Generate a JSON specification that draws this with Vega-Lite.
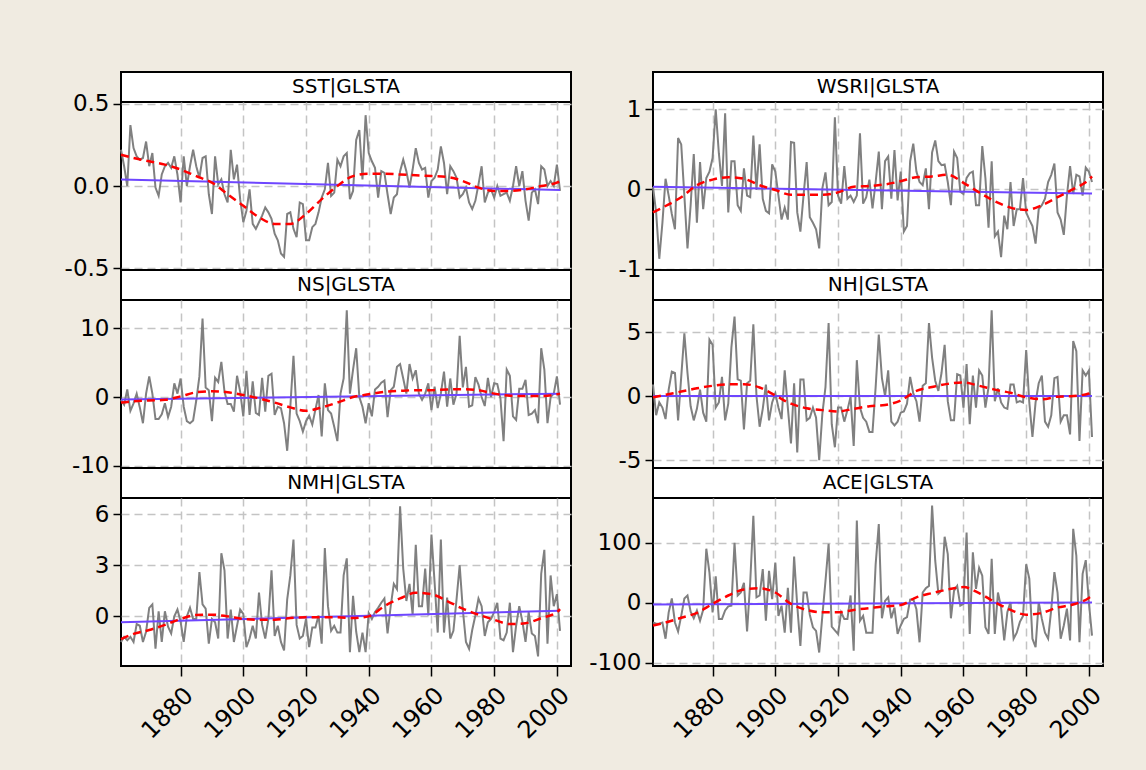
{
  "$schema": "https://vega.github.io/schema/vega-lite/v6.json",
  "autosize": {"type": "pad"},
  "padding": {"left": 63, "top": 71, "right": 40, "bottom": 28},
  "background": "#F0EBE1",
  "columns": 2,
  "bounds": "flush",
  "spacing": {"row": 0, "column": 82},
  "datasets": {
    "main": [
      {"year":1861,"SST":0.22,"WSRI":0.03,"NS":-0.4,"NH":0.9,"NMH":-1.5,"ACE":-33},
      {"year":1862,"SST":0.12,"WSRI":-0.29,"NS":-1.1,"NH":-1.5,"NMH":-1.2,"ACE":-35},
      {"year":1863,"SST":0.0,"WSRI":-0.87,"NS":1.1,"NH":-0.5,"NMH":-1.4,"ACE":-35},
      {"year":1864,"SST":0.37,"WSRI":-0.42,"NS":-2.0,"NH":-0.9,"NMH":-1.2,"ACE":-33},
      {"year":1865,"SST":0.23,"WSRI":0.13,"NS":-0.9,"NH":-1.8,"NMH":-1.5,"ACE":-60},
      {"year":1866,"SST":0.18,"WSRI":-0.08,"NS":0.5,"NH":0.5,"NMH":-0.45,"ACE":-16},
      {"year":1867,"SST":0.16,"WSRI":-0.31,"NS":-1.5,"NH":1.9,"NMH":-0.55,"ACE":7},
      {"year":1868,"SST":0.17,"WSRI":-0.5,"NS":-3.8,"NH":1.8,"NMH":-1.5,"ACE":-33},
      {"year":1869,"SST":0.27,"WSRI":0.64,"NS":0.5,"NH":-1.9,"NMH":-0.9,"ACE":-48},
      {"year":1870,"SST":0.12,"WSRI":0.56,"NS":3.0,"NH":1.5,"NMH":0.5,"ACE":-22},
      {"year":1871,"SST":0.2,"WSRI":-0.08,"NS":0.5,"NH":4.9,"NMH":0.7,"ACE":7},
      {"year":1872,"SST":-0.01,"WSRI":-0.74,"NS":-3.2,"NH":1.8,"NMH":-1.9,"ACE":12},
      {"year":1873,"SST":-0.06,"WSRI":-0.2,"NS":-3.2,"NH":-0.8,"NMH":0.3,"ACE":-15},
      {"year":1874,"SST":0.07,"WSRI":0.44,"NS":-2.5,"NH":-1.9,"NMH":-1.5,"ACE":-26},
      {"year":1875,"SST":0.12,"WSRI":-0.42,"NS":-0.9,"NH":-1.0,"NMH":0.3,"ACE":-13},
      {"year":1876,"SST":0.14,"WSRI":0.34,"NS":-2.9,"NH":0.5,"NMH":-0.6,"ACE":-30},
      {"year":1877,"SST":0.11,"WSRI":-0.25,"NS":-1.4,"NH":-1.3,"NMH":-1.0,"ACE":-12},
      {"year":1878,"SST":0.18,"WSRI":0.14,"NS":2.0,"NH":-2.0,"NMH":0.0,"ACE":90},
      {"year":1879,"SST":0.07,"WSRI":0.22,"NS":0.5,"NH":4.4,"NMH":0.4,"ACE":50},
      {"year":1880,"SST":-0.1,"WSRI":0.39,"NS":2.7,"NH":4.0,"NMH":-0.3,"ACE":-16},
      {"year":1881,"SST":0.18,"WSRI":1.0,"NS":-1.4,"NH":-0.9,"NMH":-1.5,"ACE":44},
      {"year":1882,"SST":0.0,"WSRI":0.45,"NS":-3.5,"NH":-0.5,"NMH":0.0,"ACE":-27},
      {"year":1883,"SST":0.12,"WSRI":0.04,"NS":-3.8,"NH":1.5,"NMH":0.5,"ACE":-27},
      {"year":1884,"SST":0.22,"WSRI":0.95,"NS":-3.4,"NH":-1.9,"NMH":-0.15,"ACE":-13},
      {"year":1885,"SST":0.12,"WSRI":-0.29,"NS":-0.5,"NH":-0.6,"NMH":-0.15,"ACE":-6},
      {"year":1886,"SST":0.05,"WSRI":0.35,"NS":3.0,"NH":3.8,"NMH":2.6,"ACE":-5},
      {"year":1887,"SST":0.17,"WSRI":0.35,"NS":11.4,"NH":6.2,"NMH":0.7,"ACE":100},
      {"year":1888,"SST":0.18,"WSRI":-0.2,"NS":1.4,"NH":1.3,"NMH":0.45,"ACE":12},
      {"year":1889,"SST":-0.05,"WSRI":-0.27,"NS":1.0,"NH":1.2,"NMH":-1.6,"ACE":17},
      {"year":1890,"SST":-0.17,"WSRI":0.26,"NS":-3.5,"NH":-2.6,"NMH":-0.15,"ACE":33},
      {"year":1891,"SST":0.18,"WSRI":-0.08,"NS":2.8,"NH":1.0,"NMH":-0.35,"ACE":-48},
      {"year":1892,"SST":0.01,"WSRI":-0.1,"NS":2.2,"NH":1.2,"NMH":-1.3,"ACE":34},
      {"year":1893,"SST":0.04,"WSRI":0.67,"NS":5.1,"NH":5.6,"NMH":3.7,"ACE":145},
      {"year":1894,"SST":-0.05,"WSRI":-0.01,"NS":0.8,"NH":0.0,"NMH":2.7,"ACE":9},
      {"year":1895,"SST":-0.1,"WSRI":0.56,"NS":-1.0,"NH":-2.4,"NMH":-1.3,"ACE":12},
      {"year":1896,"SST":0.22,"WSRI":-0.12,"NS":-1.0,"NH":-1.0,"NMH":0.4,"ACE":56},
      {"year":1897,"SST":0.04,"WSRI":-0.27,"NS":-2.1,"NH":0.9,"NMH":-1.5,"ACE":-30},
      {"year":1898,"SST":0.13,"WSRI":-0.3,"NS":3.1,"NH":-1.9,"NMH":-0.55,"ACE":53},
      {"year":1899,"SST":-0.08,"WSRI":0.31,"NS":0.8,"NH":-0.5,"NMH":0.4,"ACE":6},
      {"year":1900,"SST":-0.22,"WSRI":0.22,"NS":-2.8,"NH":0.2,"NMH":0.15,"ACE":67},
      {"year":1901,"SST":-0.15,"WSRI":-0.08,"NS":3.8,"NH":-0.9,"NMH":-1.8,"ACE":-22},
      {"year":1902,"SST":-0.02,"WSRI":-0.38,"NS":-2.6,"NH":-1.8,"NMH":-1.3,"ACE":-5},
      {"year":1903,"SST":-0.23,"WSRI":-0.23,"NS":2.3,"NH":2.0,"NMH":-0.55,"ACE":-50},
      {"year":1904,"SST":-0.26,"WSRI":-0.38,"NS":-2.3,"NH":-0.9,"NMH":-1.3,"ACE":25},
      {"year":1905,"SST":-0.22,"WSRI":0.59,"NS":-2.6,"NH":-3.7,"NMH":1.4,"ACE":-50},
      {"year":1906,"SST":-0.18,"WSRI":0.58,"NS":2.8,"NH":1.0,"NMH":-0.5,"ACE":77},
      {"year":1907,"SST":-0.13,"WSRI":-0.29,"NS":-2.1,"NH":-4.4,"NMH":-1.3,"ACE":-5},
      {"year":1908,"SST":-0.16,"WSRI":-0.53,"NS":3.1,"NH":1.3,"NMH":-0.15,"ACE":-72},
      {"year":1909,"SST":-0.2,"WSRI":-0.08,"NS":3.4,"NH":1.3,"NMH":2.7,"ACE":17},
      {"year":1910,"SST":-0.29,"WSRI":0.34,"NS":-2.6,"NH":-1.9,"NMH":-1.15,"ACE":17},
      {"year":1911,"SST":-0.33,"WSRI":-0.35,"NS":-1.4,"NH":-1.7,"NMH":-0.55,"ACE":-20},
      {"year":1912,"SST":-0.41,"WSRI":-0.42,"NS":-1.6,"NH":-0.9,"NMH":-1.5,"ACE":-41},
      {"year":1913,"SST":-0.43,"WSRI":-0.5,"NS":-3.8,"NH":-1.7,"NMH":-2.0,"ACE":-47},
      {"year":1914,"SST":-0.17,"WSRI":-0.74,"NS":-7.8,"NH":-5.0,"NMH":1.0,"ACE":-83},
      {"year":1915,"SST":-0.16,"WSRI":0.01,"NS":-1.4,"NH":-1.4,"NMH":2.4,"ACE":-22},
      {"year":1916,"SST":-0.26,"WSRI":0.21,"NS":6.0,"NH":0.7,"NMH":4.5,"ACE":36},
      {"year":1917,"SST":-0.31,"WSRI":-0.2,"NS":-2.4,"NH":5.7,"NMH":-0.5,"ACE":98},
      {"year":1918,"SST":-0.1,"WSRI":-0.16,"NS":-3.5,"NH":-2.2,"NMH":-1.3,"ACE":-40},
      {"year":1919,"SST":-0.11,"WSRI":0.9,"NS":-5.0,"NH":-4.0,"NMH":-1.15,"ACE":-46},
      {"year":1920,"SST":-0.33,"WSRI":-0.08,"NS":-3.5,"NH":-0.9,"NMH":-0.15,"ACE":-52},
      {"year":1921,"SST":-0.33,"WSRI":-0.18,"NS":-2.7,"NH":-0.9,"NMH":-1.8,"ACE":-16},
      {"year":1922,"SST":-0.25,"WSRI":0.29,"NS":-4.0,"NH":-2.0,"NMH":-0.65,"ACE":-27},
      {"year":1923,"SST":-0.23,"WSRI":-0.12,"NS":-1.8,"NH":-1.1,"NMH":-0.65,"ACE":-27},
      {"year":1924,"SST":-0.16,"WSRI":-0.08,"NS":0.3,"NH":-0.05,"NMH":0.05,"ACE":12},
      {"year":1925,"SST":-0.07,"WSRI":-0.16,"NS":-5.7,"NH":-3.9,"NMH":-1.6,"ACE":-80},
      {"year":1926,"SST":-0.02,"WSRI":-0.08,"NS":2.0,"NH":2.8,"NMH":4.0,"ACE":137},
      {"year":1927,"SST":0.14,"WSRI":0.7,"NS":-1.9,"NH":-0.9,"NMH":0.6,"ACE":-30},
      {"year":1928,"SST":-0.06,"WSRI":-0.18,"NS":-2.4,"NH":-1.7,"NMH":-0.85,"ACE":-22},
      {"year":1929,"SST":-0.04,"WSRI":-0.1,"NS":-4.3,"NH":-2.0,"NMH":-0.55,"ACE":-50},
      {"year":1930,"SST":0.16,"WSRI":0.12,"NS":-6.4,"NH":-2.8,"NMH":-0.95,"ACE":-50},
      {"year":1931,"SST":0.12,"WSRI":-0.24,"NS":0.5,"NH":-2.8,"NMH":-0.95,"ACE":-50},
      {"year":1932,"SST":0.18,"WSRI":0.09,"NS":2.7,"NH":0.7,"NMH":2.4,"ACE":64},
      {"year":1933,"SST":0.2,"WSRI":0.47,"NS":12.6,"NH":4.8,"NMH":3.4,"ACE":131},
      {"year":1934,"SST":-0.08,"WSRI":-0.25,"NS":0.5,"NH":1.4,"NMH":-2.1,"ACE":-26},
      {"year":1935,"SST":-0.03,"WSRI":0.35,"NS":4.0,"NH":0.0,"NMH":1.2,"ACE":3},
      {"year":1936,"SST":0.28,"WSRI":0.41,"NS":7.1,"NH":2.0,"NMH":-0.9,"ACE":9},
      {"year":1937,"SST":0.34,"WSRI":-0.12,"NS":0.0,"NH":-2.0,"NMH":-2.1,"ACE":-26},
      {"year":1938,"SST":0.04,"WSRI":0.49,"NS":-1.4,"NH":-2.3,"NMH":-0.95,"ACE":-8},
      {"year":1939,"SST":0.43,"WSRI":-0.14,"NS":-3.8,"NH":-2.0,"NMH":-2.1,"ACE":-52},
      {"year":1940,"SST":0.2,"WSRI":0.22,"NS":-0.9,"NH":-1.3,"NMH":0.2,"ACE":-38},
      {"year":1941,"SST":0.15,"WSRI":-0.53,"NS":-2.8,"NH":-1.2,"NMH":-0.15,"ACE":-27},
      {"year":1942,"SST":0.11,"WSRI":-0.46,"NS":1.1,"NH":-0.6,"NMH":0.25,"ACE":-24},
      {"year":1943,"SST":-0.07,"WSRI":0.35,"NS":1.5,"NH":1.5,"NMH":0.5,"ACE":5},
      {"year":1944,"SST":0.09,"WSRI":0.57,"NS":2.1,"NH":0.2,"NMH":0.8,"ACE":6},
      {"year":1945,"SST":0.08,"WSRI":0.22,"NS":2.4,"NH":-0.4,"NMH":1.05,"ACE":-11},
      {"year":1946,"SST":-0.05,"WSRI":0.09,"NS":-2.9,"NH":-2.0,"NMH":-1.0,"ACE":-66},
      {"year":1947,"SST":-0.17,"WSRI":0.05,"NS":1.0,"NH":0.8,"NMH":0.6,"ACE":17},
      {"year":1948,"SST":-0.07,"WSRI":0.26,"NS":1.5,"NH":1.0,"NMH":1.9,"ACE":24},
      {"year":1949,"SST":-0.05,"WSRI":-0.25,"NS":4.4,"NH":5.7,"NMH":1.6,"ACE":28},
      {"year":1950,"SST":0.09,"WSRI":0.46,"NS":4.8,"NH":3.0,"NMH":6.45,"ACE":162},
      {"year":1951,"SST":0.16,"WSRI":0.61,"NS":2.7,"NH":1.2,"NMH":2.8,"ACE":70},
      {"year":1952,"SST":0.09,"WSRI":0.35,"NS":0.5,"NH":0.4,"NMH":0.9,"ACE":15},
      {"year":1953,"SST":-0.01,"WSRI":0.3,"NS":4.8,"NH":1.8,"NMH":1.9,"ACE":20},
      {"year":1954,"SST":0.1,"WSRI":0.31,"NS":2.7,"NH":4.0,"NMH":0.1,"ACE":110},
      {"year":1955,"SST":0.23,"WSRI":0.09,"NS":3.9,"NH":-0.4,"NMH":4.2,"ACE":81},
      {"year":1956,"SST":0.14,"WSRI":-0.2,"NS":0.5,"NH":-1.9,"NMH":0.6,"ACE":-26},
      {"year":1957,"SST":0.1,"WSRI":0.47,"NS":-0.4,"NH":-1.9,"NMH":0.6,"ACE":20},
      {"year":1958,"SST":0.11,"WSRI":0.39,"NS":0.5,"NH":1.7,"NMH":2.8,"ACE":28},
      {"year":1959,"SST":-0.07,"WSRI":-0.03,"NS":2.0,"NH":1.6,"NMH":0.05,"ACE":-5},
      {"year":1960,"SST":0.03,"WSRI":-0.06,"NS":-1.9,"NH":-0.9,"NMH":4.8,"ACE":-2},
      {"year":1961,"SST":0.05,"WSRI":0.14,"NS":1.5,"NH":2.5,"NMH":2.0,"ACE":117},
      {"year":1962,"SST":0.1,"WSRI":0.2,"NS":-1.6,"NH":-2.2,"NMH":-0.95,"ACE":-52},
      {"year":1963,"SST":0.24,"WSRI":0.22,"NS":0.5,"NH":1.6,"NMH":4.5,"ACE":84},
      {"year":1964,"SST":0.14,"WSRI":-0.2,"NS":3.7,"NH":-0.9,"NMH":-0.95,"ACE":23},
      {"year":1965,"SST":-0.05,"WSRI":-0.2,"NS":-1.4,"NH":2.0,"NMH":1.1,"ACE":58},
      {"year":1966,"SST":0.12,"WSRI":0.54,"NS":2.7,"NH":1.6,"NMH":-1.3,"ACE":45},
      {"year":1967,"SST":0.09,"WSRI":0.14,"NS":-1.1,"NH":-0.9,"NMH":-0.85,"ACE":-41},
      {"year":1968,"SST":0.05,"WSRI":-0.48,"NS":0.5,"NH":0.7,"NMH":1.0,"ACE":-52},
      {"year":1969,"SST":-0.07,"WSRI":0.35,"NS":8.9,"NH":6.7,"NMH":3.0,"ACE":73},
      {"year":1970,"SST":-0.05,"WSRI":-0.59,"NS":1.4,"NH":-0.4,"NMH":0.4,"ACE":-52},
      {"year":1971,"SST":-0.01,"WSRI":-0.53,"NS":4.4,"NH":0.6,"NMH":-1.5,"ACE":17},
      {"year":1972,"SST":-0.1,"WSRI":-0.85,"NS":-1.4,"NH":-0.5,"NMH":-1.9,"ACE":-8},
      {"year":1973,"SST":-0.14,"WSRI":-0.33,"NS":-1.2,"NH":-0.9,"NMH":-0.8,"ACE":-63},
      {"year":1974,"SST":-0.09,"WSRI":-0.5,"NS":2.9,"NH":-1.0,"NMH":0.05,"ACE":-16},
      {"year":1975,"SST":0.01,"WSRI":0.09,"NS":1.8,"NH":0.9,"NMH":1.05,"ACE":1},
      {"year":1976,"SST":0.12,"WSRI":-0.46,"NS":0.0,"NH":0.9,"NMH":0.6,"ACE":-60},
      {"year":1977,"SST":-0.1,"WSRI":-0.25,"NS":-1.3,"NH":-0.5,"NMH":-1.15,"ACE":-50},
      {"year":1978,"SST":-0.04,"WSRI":-0.25,"NS":2.8,"NH":-0.4,"NMH":-0.35,"ACE":-32},
      {"year":1979,"SST":-0.02,"WSRI":0.14,"NS":0.0,"NH":-0.5,"NMH":-0.15,"ACE":-22},
      {"year":1980,"SST":-0.07,"WSRI":-0.29,"NS":2.0,"NH":3.6,"NMH":0.25,"ACE":64},
      {"year":1981,"SST":0.0,"WSRI":-0.38,"NS":1.9,"NH":-0.5,"NMH":0.8,"ACE":40},
      {"year":1982,"SST":-0.06,"WSRI":-0.46,"NS":-0.2,"NH":-3.2,"NMH":-1.3,"ACE":-60},
      {"year":1983,"SST":-0.05,"WSRI":-0.68,"NS":-6.4,"NH":-0.5,"NMH":-1.4,"ACE":-74},
      {"year":1984,"SST":-0.04,"WSRI":-0.25,"NS":4.0,"NH":1.0,"NMH":-0.95,"ACE":1},
      {"year":1985,"SST":-0.09,"WSRI":-0.2,"NS":3.1,"NH":1.6,"NMH":0.8,"ACE":-27},
      {"year":1986,"SST":0.0,"WSRI":-0.12,"NS":-2.8,"NH":-2.0,"NMH":-2.1,"ACE":-50},
      {"year":1987,"SST":0.12,"WSRI":0.09,"NS":-3.3,"NH":-2.4,"NMH":-0.55,"ACE":-60},
      {"year":1988,"SST":0.0,"WSRI":0.18,"NS":1.2,"NH":-1.5,"NMH":0.6,"ACE":-11},
      {"year":1989,"SST":0.09,"WSRI":0.32,"NS":1.2,"NH":1.4,"NMH":-0.3,"ACE":51},
      {"year":1990,"SST":-0.09,"WSRI":-0.29,"NS":2.5,"NH":1.5,"NMH":-1.5,"ACE":17},
      {"year":1991,"SST":-0.21,"WSRI":-0.38,"NS":-2.6,"NH":-2.0,"NMH":0.25,"ACE":-60},
      {"year":1992,"SST":-0.04,"WSRI":-0.57,"NS":-2.4,"NH":-1.5,"NMH":-1.0,"ACE":-38},
      {"year":1993,"SST":-0.02,"WSRI":-0.08,"NS":-1.9,"NH":-1.5,"NMH":-1.15,"ACE":-10},
      {"year":1994,"SST":-0.11,"WSRI":0.29,"NS":-3.8,"NH":-3.0,"NMH":-2.35,"ACE":-63},
      {"year":1995,"SST":0.12,"WSRI":-0.06,"NS":7.1,"NH":4.3,"NMH":2.5,"ACE":123},
      {"year":1996,"SST":0.1,"WSRI":0.18,"NS":4.0,"NH":3.5,"NMH":3.9,"ACE":78},
      {"year":1997,"SST":0.0,"WSRI":0.16,"NS":-3.8,"NH":-3.5,"NMH":-1.6,"ACE":-66},
      {"year":1998,"SST":0.03,"WSRI":-0.08,"NS":0.0,"NH":2.0,"NMH":2.4,"ACE":48},
      {"year":1999,"SST":0.0,"WSRI":0.27,"NS":0.5,"NH":1.6,"NMH":0.6,"ACE":71},
      {"year":2000,"SST":0.13,"WSRI":0.22,"NS":3.0,"NH":2.0,"NMH":1.3,"ACE":0},
      {"year":2001,"SST":-0.03,"WSRI":0.09,"NS":-1.1,"NH":-3.2,"NMH":-0.85,"ACE":-55}
    ],
    "smooth": [
      {"year":1861,"SST":0.19,"WSRI":-0.29,"NS":-0.8,"NH":-0.1,"NMH":-1.33,"ACE":-38},
      {"year":1865,"SST":0.17,"WSRI":-0.21,"NS":-0.6,"NH":0.1,"NMH":-1.03,"ACE":-33},
      {"year":1870,"SST":0.15,"WSRI":-0.1,"NS":-0.5,"NH":0.35,"NMH":-0.8,"ACE":-25},
      {"year":1875,"SST":0.13,"WSRI":0.05,"NS":-0.4,"NH":0.6,"NMH":-0.5,"ACE":-17},
      {"year":1880,"SST":0.1,"WSRI":0.12,"NS":0.1,"NH":0.8,"NMH":-0.15,"ACE":-2},
      {"year":1885,"SST":0.06,"WSRI":0.15,"NS":0.7,"NH":0.92,"NMH":0.08,"ACE":12},
      {"year":1890,"SST":0.02,"WSRI":0.13,"NS":0.85,"NH":0.93,"NMH":0.1,"ACE":22},
      {"year":1895,"SST":-0.05,"WSRI":0.05,"NS":0.7,"NH":0.67,"NMH":0.0,"ACE":24},
      {"year":1900,"SST":-0.12,"WSRI":-0.01,"NS":0.3,"NH":0.05,"NMH":-0.15,"ACE":17},
      {"year":1905,"SST":-0.19,"WSRI":-0.07,"NS":-0.2,"NH":-0.6,"NMH":-0.2,"ACE":-2},
      {"year":1910,"SST":-0.23,"WSRI":-0.07,"NS":-0.8,"NH":-0.95,"NMH":-0.2,"ACE":-12},
      {"year":1915,"SST":-0.23,"WSRI":-0.07,"NS":-1.5,"NH":-1.1,"NMH":-0.1,"ACE":-16},
      {"year":1920,"SST":-0.17,"WSRI":-0.04,"NS":-2.0,"NH":-1.2,"NMH":-0.05,"ACE":-16},
      {"year":1925,"SST":-0.08,"WSRI":0.03,"NS":-1.5,"NH":-1.0,"NMH":-0.05,"ACE":-12},
      {"year":1930,"SST":0.0,"WSRI":0.04,"NS":-0.8,"NH":-0.8,"NMH":-0.05,"ACE":-9},
      {"year":1935,"SST":0.06,"WSRI":0.06,"NS":0.0,"NH":-0.7,"NMH":-0.1,"ACE":-6},
      {"year":1940,"SST":0.075,"WSRI":0.1,"NS":0.4,"NH":-0.35,"NMH":0.0,"ACE":-4},
      {"year":1945,"SST":0.075,"WSRI":0.15,"NS":0.75,"NH":0.4,"NMH":0.6,"ACE":9},
      {"year":1950,"SST":0.07,"WSRI":0.16,"NS":0.9,"NH":0.7,"NMH":1.05,"ACE":16},
      {"year":1955,"SST":0.065,"WSRI":0.18,"NS":1.0,"NH":0.95,"NMH":1.38,"ACE":22},
      {"year":1960,"SST":0.06,"WSRI":0.08,"NS":1.0,"NH":1.05,"NMH":1.3,"ACE":26},
      {"year":1965,"SST":0.055,"WSRI":-0.04,"NS":1.1,"NH":0.8,"NMH":0.9,"ACE":16},
      {"year":1970,"SST":0.03,"WSRI":-0.15,"NS":1.15,"NH":0.5,"NMH":0.45,"ACE":1},
      {"year":1975,"SST":-0.01,"WSRI":-0.23,"NS":1.0,"NH":0.25,"NMH":0.1,"ACE":-12},
      {"year":1980,"SST":-0.03,"WSRI":-0.26,"NS":0.5,"NH":-0.1,"NMH":-0.2,"ACE":-20},
      {"year":1985,"SST":-0.03,"WSRI":-0.2,"NS":0.2,"NH":-0.25,"NMH":-0.45,"ACE":-17},
      {"year":1990,"SST":-0.02,"WSRI":-0.1,"NS":0.15,"NH":-0.05,"NMH":-0.4,"ACE":-8},
      {"year":1995,"SST":0.0,"WSRI":0.0,"NS":0.15,"NH":0.0,"NMH":-0.1,"ACE":-3},
      {"year":2000,"SST":0.02,"WSRI":0.12,"NS":0.4,"NH":0.2,"NMH":0.25,"ACE":8},
      {"year":2001,"SST":0.03,"WSRI":0.16,"NS":0.5,"NH":0.45,"NMH":0.43,"ACE":12}
    ],
    "trend": [
      {"year":1861,"SST":0.04,"WSRI":0.03,"NS":-0.35,"NH":0.0,"NMH":-0.35,"ACE":-3},
      {"year":2001,"SST":-0.025,"WSRI":-0.055,"NS":0.5,"NH":0.0,"NMH":0.33,"ACE":0.5}
    ],
    "labels": [
      {"t":"SST|GLSTA"},{"t":"WSRI|GLSTA"},{"t":"NS|GLSTA"},{"t":"NH|GLSTA"},{"t":"NMH|GLSTA"},{"t":"ACE|GLSTA"}
    ]
  },
  "concat": [
    {"width":450,"height":30,"view":{"fill":"white","stroke":"black","strokeWidth":2},"data":{"name":"labels"},"transform":[{"filter":"datum.t === 'SST|GLSTA'"}],"mark":{"type":"text","fontSize":20,"font":"DejaVu Sans","color":"black","baseline":"middle","align":"center"},"encoding":{"text":{"field":"t"},"x":{"datum":0.5,"type":"quantitative","scale":{"domain":[0,1]},"axis":null},"y":{"datum":0.5,"type":"quantitative","scale":{"domain":[0,1]},"axis":null}}},
    {"width":450,"height":30,"view":{"fill":"white","stroke":"black","strokeWidth":2},"data":{"name":"labels"},"transform":[{"filter":"datum.t === 'WSRI|GLSTA'"}],"mark":{"type":"text","fontSize":20,"font":"DejaVu Sans","color":"black","baseline":"middle","align":"center"},"encoding":{"text":{"field":"t"},"x":{"datum":0.5,"type":"quantitative","scale":{"domain":[0,1]},"axis":null},"y":{"datum":0.5,"type":"quantitative","scale":{"domain":[0,1]},"axis":null}}},
    {"width":450,"height":168,
     "encoding":{
       "x":{"field":"year","type":"quantitative","scale":{"domain":[1861,2004.5],"nice":false,"zero":false},"axis":{"values":[1880,1900,1920,1940,1960,1980,2000],"labels":false,"ticks":false,"grid":true,"title":null}},
       "y":{"field":"SST","type":"quantitative","scale":{"domain":[-0.51,0.51],"nice":false,"zero":false},"axis":{"values":[-0.5,0,0.5],"format":".1f","labelExpr":"replace(datum.label, '−', '-')","labelOverlap":false,"tickCount":10,"grid":true,"title":null}}},
     "layer":[
       {"data":{"name":"main"},"mark":{"type":"line","color":"#808080","strokeWidth":2}},
       {"data":{"name":"trend"},"mark":{"type":"line","color":"#6E46FF","strokeWidth":2}},
       {"data":{"name":"smooth"},"mark":{"type":"line","color":"#FF0000","strokeWidth":2.5,"strokeDash":[8,5],"interpolate":"monotone"}}
     ]},
    {"width":450,"height":168,
     "encoding":{
       "x":{"field":"year","type":"quantitative","scale":{"domain":[1861,2004.5],"nice":false,"zero":false},"axis":{"values":[1880,1900,1920,1940,1960,1980,2000],"labels":false,"ticks":false,"grid":true,"title":null}},
       "y":{"field":"WSRI","type":"quantitative","scale":{"domain":[-1.01,1.09],"nice":false,"zero":false},"axis":{"values":[-1,0,1],"labelExpr":"datum.value < 0 ? '-' + format(-datum.value, 'd') : format(datum.value, 'd')","labelOverlap":false,"tickCount":10,"grid":true,"title":null}}},
     "layer":[
       {"data":{"name":"main"},"mark":{"type":"line","color":"#808080","strokeWidth":2}},
       {"data":{"name":"trend"},"mark":{"type":"line","color":"#6E46FF","strokeWidth":2}},
       {"data":{"name":"smooth"},"mark":{"type":"line","color":"#FF0000","strokeWidth":2.5,"strokeDash":[8,5],"interpolate":"monotone"}}
     ]},
    {"width":450,"height":30,"view":{"fill":"white","stroke":"black","strokeWidth":2},"data":{"name":"labels"},"transform":[{"filter":"datum.t === 'NS|GLSTA'"}],"mark":{"type":"text","fontSize":20,"font":"DejaVu Sans","color":"black","baseline":"middle","align":"center"},"encoding":{"text":{"field":"t"},"x":{"datum":0.5,"type":"quantitative","scale":{"domain":[0,1]},"axis":null},"y":{"datum":0.5,"type":"quantitative","scale":{"domain":[0,1]},"axis":null}}},
    {"width":450,"height":30,"view":{"fill":"white","stroke":"black","strokeWidth":2},"data":{"name":"labels"},"transform":[{"filter":"datum.t === 'NH|GLSTA'"}],"mark":{"type":"text","fontSize":20,"font":"DejaVu Sans","color":"black","baseline":"middle","align":"center"},"encoding":{"text":{"field":"t"},"x":{"datum":0.5,"type":"quantitative","scale":{"domain":[0,1]},"axis":null},"y":{"datum":0.5,"type":"quantitative","scale":{"domain":[0,1]},"axis":null}}},
    {"width":450,"height":168,
     "encoding":{
       "x":{"field":"year","type":"quantitative","scale":{"domain":[1861,2004.5],"nice":false,"zero":false},"axis":{"values":[1880,1900,1920,1940,1960,1980,2000],"labels":false,"ticks":false,"grid":true,"title":null}},
       "y":{"field":"NS","type":"quantitative","scale":{"domain":[-10.3,14.1],"nice":false,"zero":false},"axis":{"values":[-10,0,10],"format":"d","labelExpr":"replace(datum.label, '−', '-')","labelOverlap":false,"tickCount":10,"grid":true,"title":null}}},
     "layer":[
       {"data":{"name":"main"},"mark":{"type":"line","color":"#808080","strokeWidth":2}},
       {"data":{"name":"trend"},"mark":{"type":"line","color":"#6E46FF","strokeWidth":2}},
       {"data":{"name":"smooth"},"mark":{"type":"line","color":"#FF0000","strokeWidth":2.5,"strokeDash":[8,5],"interpolate":"monotone"}}
     ]},
    {"width":450,"height":168,
     "encoding":{
       "x":{"field":"year","type":"quantitative","scale":{"domain":[1861,2004.5],"nice":false,"zero":false},"axis":{"values":[1880,1900,1920,1940,1960,1980,2000],"labels":false,"ticks":false,"grid":true,"title":null}},
       "y":{"field":"NH","type":"quantitative","scale":{"domain":[-5.62,7.5],"nice":false,"zero":false},"axis":{"values":[-5,0,5],"format":"d","labelExpr":"replace(datum.label, '−', '-')","labelOverlap":false,"tickCount":10,"grid":true,"title":null}}},
     "layer":[
       {"data":{"name":"main"},"mark":{"type":"line","color":"#808080","strokeWidth":2}},
       {"data":{"name":"trend"},"mark":{"type":"line","color":"#6E46FF","strokeWidth":2}},
       {"data":{"name":"smooth"},"mark":{"type":"line","color":"#FF0000","strokeWidth":2.5,"strokeDash":[8,5],"interpolate":"monotone"}}
     ]},
    {"width":450,"height":30,"view":{"fill":"white","stroke":"black","strokeWidth":2},"data":{"name":"labels"},"transform":[{"filter":"datum.t === 'NMH|GLSTA'"}],"mark":{"type":"text","fontSize":20,"font":"DejaVu Sans","color":"black","baseline":"middle","align":"center"},"encoding":{"text":{"field":"t"},"x":{"datum":0.5,"type":"quantitative","scale":{"domain":[0,1]},"axis":null},"y":{"datum":0.5,"type":"quantitative","scale":{"domain":[0,1]},"axis":null}}},
    {"width":450,"height":30,"view":{"fill":"white","stroke":"black","strokeWidth":2},"data":{"name":"labels"},"transform":[{"filter":"datum.t === 'ACE|GLSTA'"}],"mark":{"type":"text","fontSize":20,"font":"DejaVu Sans","color":"black","baseline":"middle","align":"center"},"encoding":{"text":{"field":"t"},"x":{"datum":0.5,"type":"quantitative","scale":{"domain":[0,1]},"axis":null},"y":{"datum":0.5,"type":"quantitative","scale":{"domain":[0,1]},"axis":null}}},
    {"width":450,"height":168,
     "encoding":{
       "x":{"field":"year","type":"quantitative","scale":{"domain":[1861,2004.5],"nice":false,"zero":false},"axis":{"values":[1880,1900,1920,1940,1960,1980,2000],"format":"d","labelAngle":-45,"labelFontSize":24,"tickSize":10,"labelPadding":7,"labelFlush":false,"grid":true,"title":null}},
       "y":{"field":"NMH","type":"quantitative","scale":{"domain":[-2.91,6.94],"nice":false,"zero":false},"axis":{"values":[0,3,6],"format":"d","labelExpr":"replace(datum.label, '−', '-')","labelOverlap":false,"tickCount":10,"grid":true,"title":null}}},
     "layer":[
       {"data":{"name":"main"},"mark":{"type":"line","color":"#808080","strokeWidth":2}},
       {"data":{"name":"trend"},"mark":{"type":"line","color":"#6E46FF","strokeWidth":2}},
       {"data":{"name":"smooth"},"mark":{"type":"line","color":"#FF0000","strokeWidth":2.5,"strokeDash":[8,5],"interpolate":"monotone"}}
     ]},
    {"width":450,"height":168,
     "encoding":{
       "x":{"field":"year","type":"quantitative","scale":{"domain":[1861,2004.5],"nice":false,"zero":false},"axis":{"values":[1880,1900,1920,1940,1960,1980,2000],"format":"d","labelAngle":-45,"labelFontSize":24,"tickSize":10,"labelPadding":7,"labelFlush":false,"grid":true,"title":null}},
       "y":{"field":"ACE","type":"quantitative","scale":{"domain":[-105.5,174.5],"nice":false,"zero":false},"axis":{"values":[-100,0,100],"format":"d","labelExpr":"replace(datum.label, '−', '-')","labelOverlap":false,"tickCount":10,"grid":true,"title":null}}},
     "layer":[
       {"data":{"name":"main"},"mark":{"type":"line","color":"#808080","strokeWidth":2}},
       {"data":{"name":"trend"},"mark":{"type":"line","color":"#6E46FF","strokeWidth":2}},
       {"data":{"name":"smooth"},"mark":{"type":"line","color":"#FF0000","strokeWidth":2.5,"strokeDash":[8,5],"interpolate":"monotone"}}
     ]}
  ],
  "config": {
    "font": "DejaVu Sans",
    "view": {"fill": "white", "stroke": "black", "strokeWidth": 2},
    "axis": {
      "labelFont": "DejaVu Sans",
      "labelFontSize": 23,
      "labelColor": "black",
      "labelOverlap": false,
      "tickColor": "black",
      "tickSize": 8,
      "tickWidth": 1.5,
      "labelPadding": 4,
      "domain": false,
      "gridColor": "#C4C4C4",
      "gridDash": [8, 5],
      "gridWidth": 1.5
    }
  }
}
